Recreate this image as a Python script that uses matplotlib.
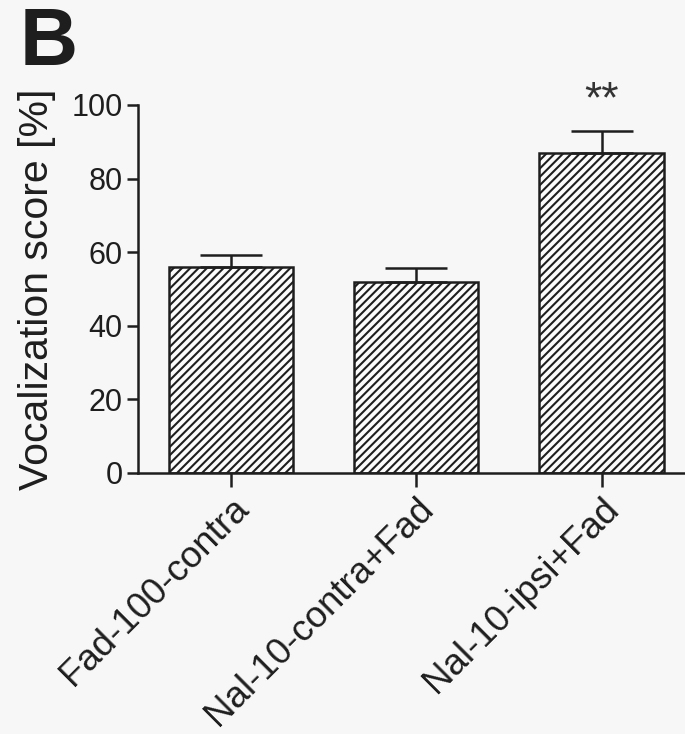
import matplotlib
matplotlib.use('Agg')
import numpy as np
import matplotlib.pyplot as plt

# data
groups = ['Fad-100-contra', 'Nal-10-contra+Fad', 'Nal-10-ipsi+Fad']
scores = [56.0, 52.0, 87.0]
sem = [3.2, 3.8, 6.0]
stars = ['', '', '**']

plt.rcParams['font.family'] = ['Liberation Sans', 'DejaVu Sans']
plt.rcParams['hatch.linewidth'] = 1.5
plt.rcParams['hatch.color'] = '#808080'

bg = '#f7f7f8'
ink = '#1e1e1e'
fig = plt.figure(figsize=(6.85, 7.34), dpi=100, facecolor=bg)
ax = fig.add_axes([0.2015, 0.3556, 0.7985, 0.5014], facecolor=bg)

x = np.arange(len(groups))
ax.bar(x, scores, width=0.67, facecolor='#fbfbfb', edgecolor=ink,
       linewidth=1.8, hatch='////', zorder=2)
ax.errorbar(x, scores, yerr=[np.zeros(len(sem)), sem], fmt='none',
            ecolor=ink, elinewidth=1.8, capsize=22, capthick=1.8, zorder=3)

# significance marks
for xi, s, e, lab in zip(x, scores, sem, stars):
    if lab:
        ax.text(xi, s + e + 2.5, lab, ha='center', va='bottom', fontsize=32,
                color='#333333')

ax.set_xlim(-0.5, 2.45)
ax.set_ylim(0, 100)
ax.set_yticks([0, 20, 40, 60, 80, 100])
ax.set_xticks(x)
ax.set_xticklabels(groups, rotation=45, ha='right', rotation_mode='anchor',
                   fontsize=26.5, color=ink)
ax.tick_params(axis='y', labelsize=22, length=8, width=1.8, colors=ink, pad=3)
ax.tick_params(axis='x', length=10, width=1.8, colors=ink, pad=3)
ax.set_ylabel('Vocalization score [%]', fontsize=29.5, color=ink, labelpad=11)

for side in ['top', 'right']:
    ax.spines[side].set_visible(False)
for side in ['left', 'bottom']:
    ax.spines[side].set_linewidth(1.8)
    ax.spines[side].set_color(ink)

fig.text(0.028, 0.992, 'B', fontsize=58, fontweight='bold', va='top', ha='left',
         color=ink)

fig.savefig('out.png', dpi=100, facecolor=bg)
